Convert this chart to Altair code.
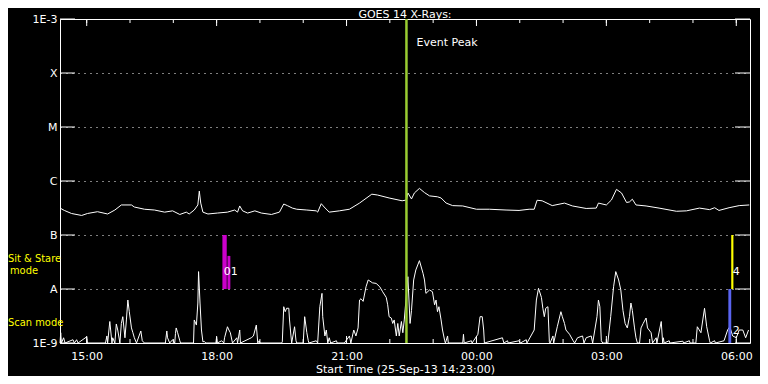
import altair as alt
import pandas as pd

# ---------------- data ----------------
# GOES 14 long channel (1-8 A), W/m^2
long_times = ["14:24","14:29","14:39","14:53","15:01","15:15","15:29","15:39","15:48","16:02",
              "16:06","16:20","16:34","16:48","16:59","17:09","17:18","17:22","17:29","17:34",
              "17:36","17:38","17:41","17:48","18:01","18:15","18:25","18:29","18:32","18:36",
              "18:43","18:53","19:02","19:16","19:27","19:33","19:38","19:45","19:51","20:05",
              "20:18","20:20","20:25","20:29","20:36","20:50","21:04","21:18","21:35","21:43",
              "21:59","22:17","22:23","22:25","22:30","22:34","22:41","22:48","22:55","23:06",
              "23:11","23:18","23:27","23:41","00:00","00:18","00:41","00:59","01:13","01:20",
              "01:24","01:31","01:45","02:02","02:13","02:32","02:46","02:49","03:00","03:07",
              "03:14","03:21","03:28","03:32","03:36","03:41","03:55","04:13","04:37","04:51",
              "05:09","05:23","05:30","05:36","05:50","06:04","06:18"]
long_flux = [3.1e-7,2.85e-7,2.5e-7,2.3e-7,2.5e-7,2.7e-7,2.45e-7,2.9e-7,3.6e-7,3.6e-7,
             3.3e-7,3.0e-7,2.9e-7,2.65e-7,2.8e-7,2.4e-7,2.65e-7,2.45e-7,2.9e-7,3.6e-7,
             6.5e-7,3.9e-7,2.65e-7,2.45e-7,2.55e-7,2.65e-7,2.9e-7,2.65e-7,3.45e-7,2.8e-7,
             2.55e-7,2.8e-7,2.55e-7,2.4e-7,2.65e-7,3.75e-7,3.5e-7,3.15e-7,3.0e-7,2.9e-7,
             2.8e-7,2.65e-7,3.8e-7,3.3e-7,2.65e-7,2.8e-7,3.0e-7,3.9e-7,5.7e-7,5.5e-7,
             4.85e-7,4.3e-7,4.45e-7,6.0e-7,4.65e-7,6.0e-7,7.3e-7,6.1e-7,5.3e-7,5.1e-7,
             4.85e-7,3.9e-7,3.5e-7,3.45e-7,3.0e-7,3.0e-7,2.9e-7,2.85e-7,3.0e-7,3.0e-7,
             4.4e-7,4.3e-7,3.5e-7,3.9e-7,3.45e-7,3.1e-7,3.15e-7,3.9e-7,3.6e-7,4.45e-7,
             7.0e-7,6.0e-7,4.0e-7,4.1e-7,4.6e-7,3.6e-7,3.45e-7,3.15e-7,2.75e-7,2.8e-7,
             3.15e-7,2.95e-7,3.2e-7,2.85e-7,3.2e-7,3.5e-7,3.6e-7]

# GOES 14 short channel (0.5-4 A), W/m^2 (values under 1E-9 sit on the floor)
short_times = ["14:23","14:24","14:25","14:28","14:30","14:41","14:43","14:46","14:48","15:00",
               "15:01","15:26","15:28","15:29","15:32","15:35","15:36","15:39","15:41","15:43",
               "15:46","15:48","15:50","15:53","15:55","15:57","15:59","16:02","16:04","16:06",
               "16:09","16:15","16:17","16:20","16:49","16:51","16:52","16:55","16:59","17:02",
               "17:03","17:04","17:06","17:09","17:10","17:28","17:29","17:32","17:34","17:35",
               "17:37","17:39","17:41","17:43","17:45","17:59","18:00","18:01","18:07","18:10",
               "18:11","18:15","18:17","18:19","18:22","18:28","18:29","18:32","18:33","18:48",
               "18:51","18:55","18:57","18:59","19:00","19:30","19:31","19:33","19:35","19:37",
               "19:40","19:41","19:43","19:44","19:48","19:50","19:51","20:00","20:02","20:05",
               "20:07","20:08","20:18","20:20","20:23","20:26","20:27","20:30","20:32","20:34",
               "20:36","20:38","20:46","20:47","20:57","21:04","21:06","21:10","21:13","21:16",
               "21:18","21:20","21:23","21:27","21:30","21:36","21:41","21:46","21:50","21:55",
               "21:57","21:59","22:02","22:04","22:06","22:09","22:11","22:13","22:16","22:18",
               "22:20","22:25","22:28","22:30","22:33","22:36","22:41","22:46","22:48","22:50",
               "22:55","22:59","23:02","23:04","23:06","23:08","23:11","23:13","23:16","23:17",
               "23:20","23:21","23:41","23:42","23:43","23:53","23:54","00:02","00:05","00:08",
               "00:10","00:11","00:36","00:38","00:43","00:44","00:59","01:01","01:09","01:10",
               "01:20","01:23","01:26","01:30","01:32","01:34","01:36","01:39","01:41","01:42",
               "01:46","01:47","01:52","01:57","01:59","02:02","02:04","02:09","02:14","02:16",
               "02:20","02:27","02:29","02:32","02:39","02:41","02:47","02:49","02:51","02:53",
               "02:55","03:02","03:06","03:10","03:13","03:17","03:20","03:23","03:26","03:29",
               "03:32","03:34","03:36","03:39","03:41","03:43","03:46","03:48","03:51","03:55",
               "03:57","04:02","04:04","04:09","04:10","04:16","04:18","04:19","04:20","04:27",
               "04:28","04:46","04:47","04:55","04:56","05:04","05:06","05:11","05:16","05:19",
               "05:23","05:24","05:30","05:31","05:43","05:48","05:51","05:55","06:00","06:04",
               "06:09","06:13","06:17"]
short_flux = [5e-10,1.55e-9,5e-10,1.25e-9,5e-10,1.15e-9,5e-10,1.15e-9,5e-10,1.3e-9,
              5e-10,5e-10,1.35e-9,5e-10,2.5e-9,5e-10,1.25e-9,5e-10,2.25e-9,1.74e-9,
              5e-10,2.3e-9,3.07e-9,1.25e-9,2.67e-9,6.25e-9,3.8e-9,1.9e-9,1.55e-9,1.25e-9,
              5e-10,1.67e-9,1.1e-9,5e-10,5e-10,1.67e-9,1.25e-9,5e-10,1.15e-9,5e-10,
              1.5e-9,1.9e-9,1.55e-9,1.1e-9,5e-10,5e-10,2.67e-9,2.15e-9,5.5e-9,2.1e-8,
              5.5e-9,1.74e-9,1.05e-9,1.07e-9,5e-10,5e-10,1.3e-9,5e-10,1.1e-9,5e-10,
              1.25e-9,2.0e-9,1.74e-9,1.55e-9,5e-10,1.25e-9,5e-10,1.74e-9,5e-10,1.25e-9,
              1.35e-9,2.15e-9,5e-10,1.1e-9,5e-10,5e-10,1.05e-9,4.7e-9,3.8e-9,4.4e-9,
              4.4e-9,2.67e-9,1.35e-9,5e-10,2.0e-9,1.1e-9,5e-10,5e-10,3.07e-9,1.55e-9,
              1.1e-9,5e-10,1.1e-9,5e-10,4.7e-9,8.3e-9,3.07e-9,1.35e-9,1.74e-9,5e-10,
              1.25e-9,5e-10,1.1e-9,5e-10,5e-10,1.35e-9,5e-10,1.74e-9,1.35e-9,1.9e-9,
              6.25e-9,6.6e-9,5.9e-9,1.1e-8,1.47e-8,1.3e-8,1.27e-8,1.1e-8,8.9e-9,7.0e-9,
              5.1e-9,3.07e-9,2.9e-9,2.3e-9,2.67e-9,1.35e-9,2.3e-9,1.35e-9,2.5e-9,1.55e-9,
              2.67e-9,1.69e-8,2.3e-9,4.0e-9,1.47e-8,2.25e-8,3.35e-8,1.95e-8,1.47e-8,8.3e-9,
              9.6e-9,8.9e-9,5.1e-9,6.25e-9,3.8e-9,4.7e-9,2.67e-9,1.74e-9,1.1e-9,5e-10,
              1.35e-9,5e-10,5e-10,1.45e-9,5e-10,1.1e-9,5e-10,1.45e-9,3.07e-9,3.07e-9,
              1.74e-9,5e-10,1.25e-9,5e-10,1.1e-9,5e-10,1.1e-9,5e-10,1.15e-9,5e-10,
              1.74e-9,6.25e-9,1.03e-8,7.0e-9,4.4e-9,3.07e-9,4.4e-9,4.7e-9,1.05e-9,5e-10,
              1.35e-9,5e-10,2.0e-9,3.8e-9,3.07e-9,2.3e-9,1.74e-9,1.45e-9,1.1e-9,5e-10,
              1.25e-9,1.35e-9,5e-10,1.25e-9,1.35e-9,5e-10,3.07e-9,6.25e-9,4.7e-9,1.1e-9,
              5e-10,5e-10,3.07e-9,1.1e-8,2.1e-8,1.47e-8,9.6e-9,4.0e-9,2.3e-9,1.9e-9,
              3.07e-9,5.5e-9,4.0e-9,1.9e-9,1.25e-9,5e-10,5e-10,1.9e-9,2.3e-9,2.9e-9,
              1.9e-9,1.55e-9,5e-10,1.25e-9,5e-10,2.5e-9,5e-10,1.25e-9,5e-10,1.1e-9,
              5e-10,1.08e-9,5e-10,1.1e-9,5e-10,5e-10,2.0e-9,1.55e-9,4.4e-9,2.0e-9,
              1.1e-9,5e-10,1.1e-9,5e-10,1.1e-9,1.74e-9,2.0e-9,1.35e-9,1.25e-9,1.74e-9,
              1.74e-9,1.25e-9,1.74e-9]

# observation-mode bars: start, end, low flux, high flux, colour
mode_start = ["18:08", "18:15", "05:53", "05:49"]
mode_end = ["18:14", "18:19", "05:56", "05:53"]
mode_low = [1e-8, 1e-8, 1e-8, 1e-9]
mode_high = [1e-7, 4.1e-8, 1e-7, 1e-8]
mode_color = ["#cc00cc", "#cc00cc", "#ffff00", "#5a64f0"]

obs_label_time = ["18:10", "05:55", "05:55"]
obs_label_flux = [2.1e-8, 2.1e-8, 1.7e-9]
obs_label_text = ["01", "4", "2"]

peak_time = ["22:23"]
peak_label = ["Event Peak"]

level_values = [1e-9, 1e-8, 1e-7, 1e-6, 1e-5, 1e-4, 1e-3]
level_labels = ["1E-9", "A", "B", "C", "M", "X", "1E-3"]
hour_ticks = ["15:00","16:00","17:00","18:00","19:00","20:00","21:00","22:00","23:00",
              "00:00","01:00","02:00","03:00","04:00","05:00","06:00"]
label_ticks = ["15:00", "18:00", "21:00", "00:00", "03:00", "06:00"]
side_labels = ["Sit & Stare", "mode", "Scan mode"]
title_text = ["GOES 14 X-Rays:"]


def ts(hhmm):
    h = int(hhmm.split(":")[0])
    day = "2013-09-25" if h >= 14 else "2013-09-26"
    return f"{day}T{hhmm}:00"


def dt(hhmm):
    h, m = [int(v) for v in hhmm.split(":")]
    d = 25 if h >= 14 else 26
    return alt.DateTime(year=2013, month=9, date=d, hours=h, minutes=m)


long_df = pd.DataFrame({"t": [ts(t) for t in long_times], "f": long_flux})
short_df = pd.DataFrame({"t": [ts(t) for t in short_times], "f": short_flux})
mode_df = pd.DataFrame({"t": [ts(t) for t in mode_start], "t2": [ts(t) for t in mode_end],
                        "lo": mode_low, "hi": mode_high, "c": mode_color})
obs_df = pd.DataFrame({"t": [ts(t) for t in obs_label_time], "f": obs_label_flux,
                       "s": obs_label_text})
peak_df = pd.DataFrame({"t": [ts(t) for t in peak_time], "s": peak_label})
lev_df = pd.DataFrame({"f": level_values})
hour_df = pd.DataFrame({"t": [ts(t) for t in hour_ticks]})
major_df = pd.DataFrame({"t": [ts(t) for t in label_ticks]})
side_df = pd.DataFrame({"s": side_labels})
title_df = pd.DataFrame({"s": title_text})

W, H = 690, 324
FONT = "DejaVu Sans"
SIDE_FONT = "DejaVu Sans Condensed"

label_expr = ("datum.value < 5e-9 ? '1E-9' : datum.value < 5e-8 ? 'A' : datum.value < 5e-7 ? 'B' : "
              "datum.value < 5e-6 ? 'C' : datum.value < 5e-5 ? 'M' : datum.value < 5e-4 ? 'X' : '1E-3'")

xscale = alt.Scale(domain=[dt("14:23"), dt("06:19")])
yscale = alt.Scale(type="log", domain=[1e-9, 1e-3], clamp=True)

x_axis = alt.Axis(values=[dt(t) for t in label_ticks], format="%H:%M", ticks=False,
                  domain=False, grid=False, labelColor="white", labelFont=FONT,
                  labelFontSize=11, labelPadding=7, title="Start Time (25-Sep-13 14:23:00)",
                  titleColor="white", titleFont=FONT, titleFontSize=11,
                  titleFontWeight="normal", titlePadding=2)
y_axis = alt.Axis(values=level_values, labelExpr=label_expr, ticks=False, domain=False,
                  grid=True, gridColor="white", gridDash=[1, 5], gridOpacity=1,
                  labelColor="white", labelFont=FONT, labelFontSize=11, labelPadding=3,
                  title=None)

long_line = alt.Chart(long_df).mark_line(color="white", strokeWidth=1).encode(
    x=alt.X("t:T", scale=xscale, axis=x_axis), y=alt.Y("f:Q", scale=yscale, axis=y_axis))
short_line = alt.Chart(short_df).mark_line(color="white", strokeWidth=1).encode(
    x=alt.X("t:T", scale=xscale), y=alt.Y("f:Q", scale=yscale))

bars = alt.Chart(mode_df).mark_rect().encode(
    x=alt.X("t:T", scale=xscale), x2="t2:T",
    y=alt.Y("hi:Q", scale=yscale), y2="lo:Q",
    color=alt.Color("c:N", scale=None))

obs_text = alt.Chart(obs_df).mark_text(color="white", font=FONT, fontSize=11, align="left",
                                       baseline="middle").encode(
    x=alt.X("t:T", scale=xscale), y=alt.Y("f:Q", scale=yscale), text="s:N")

peak_rule = alt.Chart(peak_df).mark_rule(color="#9acd32", strokeWidth=2.5).encode(
    x=alt.X("t:T", scale=xscale))
peak_text = alt.Chart(peak_df).mark_text(color="white", font=FONT, fontSize=11, align="left",
                                         baseline="middle", dx=10).encode(
    x=alt.X("t:T", scale=xscale), y=alt.value(24), text="s:N")

lev_left = alt.Chart(lev_df).mark_rule(color="white").encode(
    y=alt.Y("f:Q", scale=yscale), x=alt.value(0), x2=alt.value(15))
lev_right = alt.Chart(lev_df).mark_rule(color="white").encode(
    y=alt.Y("f:Q", scale=yscale), x=alt.value(W - 15), x2=alt.value(W))

hr_bot = alt.Chart(hour_df).mark_rule(color="white").encode(
    x=alt.X("t:T", scale=xscale), y=alt.value(H), y2=alt.value(H - 4))
hr_top = alt.Chart(hour_df).mark_rule(color="white").encode(
    x=alt.X("t:T", scale=xscale), y=alt.value(0), y2=alt.value(4))
mj_bot = alt.Chart(major_df).mark_rule(color="white").encode(
    x=alt.X("t:T", scale=xscale), y=alt.value(H), y2=alt.value(H - 7))
mj_top = alt.Chart(major_df).mark_rule(color="white").encode(
    x=alt.X("t:T", scale=xscale), y=alt.value(0), y2=alt.value(7))

side_sit = alt.Chart(side_df.iloc[[0]]).mark_text(color="yellow", font=SIDE_FONT, fontSize=11,
                                                  align="left", baseline="middle").encode(
    x=alt.value(-52), y=alt.value(240), text="s:N")
side_mode = alt.Chart(side_df.iloc[[1]]).mark_text(color="yellow", font=SIDE_FONT, fontSize=11,
                                                   align="center", baseline="middle").encode(
    x=alt.value(-36), y=alt.value(252), text="s:N")
side_scan = alt.Chart(side_df.iloc[[2]]).mark_text(color="yellow", font=SIDE_FONT, fontSize=11,
                                                   align="left", baseline="middle").encode(
    x=alt.value(-52), y=alt.value(304), text="s:N")

title_mark = alt.Chart(title_df).mark_text(color="white", font=FONT, fontSize=11,
                                           align="center", baseline="top").encode(
    x=alt.value(W / 2), y=alt.value(-10), text="s:N")

chart = alt.layer(
    long_line, short_line, bars, obs_text, peak_rule, peak_text,
    lev_left, lev_right, hr_bot, hr_top, mj_bot, mj_top, side_sit, side_mode, side_scan,
    title_mark
).properties(
    width=W, height=H,
    autosize=alt.AutoSizeParams(type="none"),
    padding={"left": 52, "top": 11, "right": 10, "bottom": 33},
).configure(background="black").configure_view(stroke="white", strokeWidth=1)

chart.save("out.html", embed_options={"renderer": "svg", "actions": False})
